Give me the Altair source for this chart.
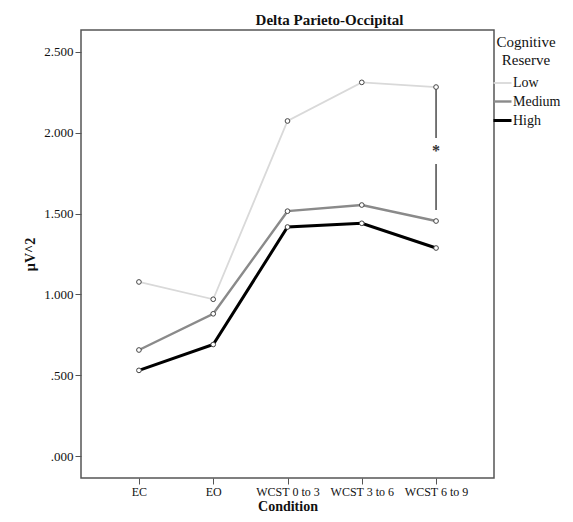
import altair as alt
import pandas as pd

conditions = ["EC", "EO", "WCST 0 to 3", "WCST 3 to 6", "WCST 6 to 9"]
groups = ["Low", "Medium", "High"]
low = [1.077, 0.970, 2.073, 2.312, 2.283]
medium = [0.656, 0.880, 1.515, 1.553, 1.454]
high = [0.530, 0.690, 1.417, 1.440, 1.287]
y_ticks = [0.0, 0.5, 1.0, 1.5, 2.0, 2.5]

# significance marker (between Low and Medium at WCST 6 to 9)
sig_cond = "WCST 6 to 9"
sig_seg1 = [2.296, 1.968]
sig_seg2 = [1.807, 1.522]
sig_star_y = 1.906

rows = []
for g, vals in zip(groups, [low, medium, high]):
    for c, v in zip(conditions, vals):
        rows.append({"Condition": c, "Group": g, "Value": v})
df = pd.DataFrame(rows)

sig_df = pd.DataFrame({
    "Condition": [sig_cond, sig_cond],
    "y1": [sig_seg1[0], sig_seg2[0]],
    "y2": [sig_seg1[1], sig_seg2[1]],
})
star_df = pd.DataFrame({"Condition": [sig_cond], "y": [sig_star_y], "t": ["*"]})

FONT = "Liberation Serif"

x_enc = alt.X("Condition:N", sort=conditions,
              scale=alt.Scale(type="point", padding=0.78),
              axis=alt.Axis(title="Condition", labelAngle=0, labelFontSize=12,
                            titleFontSize=14, titleFontWeight="bold",
                            tickSize=6, tickColor="#555", labelPadding=2,
                            titlePadding=2, domain=False, labelColor="#111",
                            titleColor="#111"))
y_scale = alt.Scale(domain=[-0.136, 2.636], nice=False, zero=False)
y_enc = alt.Y("Value:Q", scale=y_scale,
              axis=alt.Axis(title="µV^2", values=y_ticks, grid=False,
                            labelExpr="datum.value < 1 ? slice(format(datum.value, '.3f'), 1) : format(datum.value, '.3f')",
                            labelFontSize=13, titleFontSize=14, titleFontWeight="bold",
                            tickSize=6, tickColor="#555", labelPadding=2,
                            titlePadding=6, domain=False, labelColor="#111",
                            titleColor="#111"))

color_scale = alt.Scale(domain=groups, range=["#d9d9d9", "#8a8a8a", "#000000"])
sw_scale = alt.Scale(domain=groups, range=[1.8, 3.0, 5.0])
legend = alt.Legend(title=["Cognitive", "Reserve"], orient="none",
                    legendX=411, legendY=5, symbolType="stroke", symbolSize=324,
                    labelFontSize=14, titleFontSize=15, titleFontWeight="normal",
                    titleAlign="center", titleAnchor="middle", titleLineHeight=18,
                    labelOffset=0, rowPadding=1, titlePadding=5, padding=0,
                    labelColor="#111", titleColor="#111")

lines = alt.Chart(df).mark_line().encode(
    x=x_enc,
    y=y_enc,
    color=alt.Color("Group:N", sort=groups, scale=color_scale, legend=legend),
    strokeWidth=alt.StrokeWidth("Group:N", sort=groups, scale=sw_scale, legend=legend),
    order=alt.Order("Condition:N"),
)

points = alt.Chart(df).mark_point(shape="circle", filled=True, fill="white",
                                  stroke="#444", strokeWidth=1, size=22, opacity=1).encode(
    x=alt.X("Condition:N", sort=conditions),
    y=alt.Y("Value:Q"),
)

sig = alt.Chart(sig_df).mark_rule(color="#555", strokeWidth=1.6).encode(
    x=alt.X("Condition:N", sort=conditions),
    y=alt.Y("y1:Q"),
    y2="y2:Q",
)
star = alt.Chart(star_df).mark_text(font=FONT, fontSize=16, fontWeight="bold",
                                    color="#333", baseline="middle", dy=3).encode(
    x=alt.X("Condition:N", sort=conditions),
    y=alt.Y("y:Q"),
    text="t:N",
)

chart = alt.layer(lines, sig, star, points).properties(
    width=413, height=448,
    title=alt.TitleParams("Delta Parieto-Occipital", anchor="middle", dx=42,
                          offset=2, fontSize=15, fontWeight="bold", font=FONT,
                          color="#111"),
    autosize=alt.AutoSizeParams(type="none"),
    padding={"left": 73, "top": 22, "right": 71, "bottom": 36},
).configure(font=FONT).configure_view(stroke="#555", strokeWidth=1.5)

chart.save("out.html", embed_options={"renderer": "svg", "actions": False})
